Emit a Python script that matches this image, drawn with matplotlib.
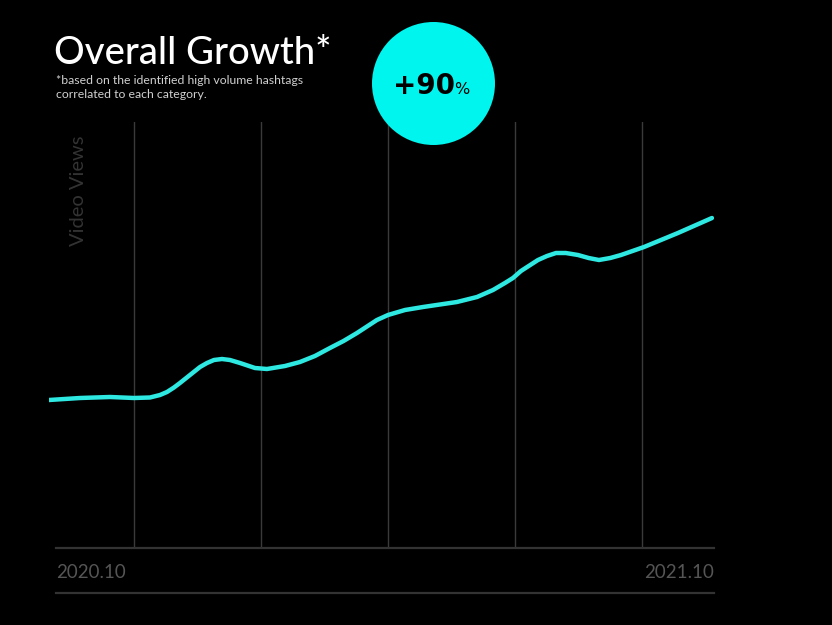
import matplotlib.pyplot as plt
from matplotlib.patches import Ellipse
from matplotlib.lines import Line2D

# period index (grid lines sit at 1..5), video views (relative units)
period = [0.331, 0.575, 0.811, 1.0, 1.126, 1.205, 1.260, 1.315, 1.362, 1.441,
          1.520, 1.575, 1.630, 1.693, 1.756, 1.835, 1.953, 2.047, 2.189, 2.307,
          2.425, 2.543, 2.650, 2.756, 2.913, 3.0, 3.134, 3.276, 3.543, 3.701,
          3.827, 3.921, 3.984, 4.047, 4.181, 4.252, 4.323, 4.400, 4.496, 4.580,
          4.661, 4.750, 4.835, 5.016, 5.283, 5.551]
views = [148, 150, 151, 150, 150.5, 153, 156, 160.5, 165, 173,
         181, 185, 188, 189, 188, 185, 180, 179, 182, 186,
         192, 200, 207, 215, 228, 233, 238, 241, 246, 251,
         258, 265, 270, 277, 288, 292, 295, 295, 293, 290,
         288, 290, 293, 301, 315, 330]
grid_at = [1, 2, 3, 4, 5]
x_labels = ["2020.10", "2021.10"]

BG = "#000000"
LINE = "#2ee8e2"
GRID = "#3a3a3a"

fig = plt.figure(figsize=(8.32, 6.25), dpi=100, facecolor=BG)
ax = fig.add_axes([49 / 832, 1 - 548 / 625, 665 / 832, 426 / 625])
ax.set_facecolor(BG)
ax.set_xlim(0.331, 5.567)
ax.set_ylim(0, 426)
for s in ax.spines.values():
    s.set_visible(False)
ax.set_xticks([])
ax.set_yticks([])

for g in grid_at:
    ax.axvline(g, color=GRID, lw=1.0, zorder=1)

ax.plot(period, views, color=LINE, lw=3.2, solid_capstyle="round",
        solid_joinstyle="round", zorder=3)

# baseline and bottom rule
fig.add_artist(Line2D([56 / 832, 714 / 832], [1 - 548 / 625] * 2,
                      color="#333333", lw=1.6))
fig.add_artist(Line2D([56 / 832, 714 / 832], [1 - 593 / 625] * 2,
                      color="#333333", lw=1.6))

fig.text(56 / 832, 1 - 572 / 625, x_labels[0], color="#555555", fontsize=13.5,
         family="Lato", ha="left", va="center")
fig.text(714 / 832, 1 - 572 / 625, x_labels[1], color="#555555", fontsize=13.5,
         family="Lato", ha="right", va="center")

fig.text(78 / 832, 1 - 191 / 625, "Video Views", color="#333333", fontsize=14.5,
         family="Lato", rotation=90, ha="center", va="center")

# titles
fig.text(54 / 832, 1 - 53 / 625, "Overall Growth*", color="white", fontsize=27.5,
         family="Lato", fontweight="medium", ha="left", va="center")
fig.text(56 / 832, 1 - 80 / 625, "*based on the identified high volume hashtags",
         color="#d0d0d0", fontsize=8.8, family="Lato", ha="left", va="center")
fig.text(56 / 832, 1 - 95 / 625, "correlated to each category.",
         color="#d0d0d0", fontsize=8.8, family="Lato", ha="left", va="center")

# badge
fig.add_artist(Ellipse((433.5 / 832, 1 - 83.5 / 625), 123 / 832, 123 / 625,
                       facecolor="#00f5ee", edgecolor="none", zorder=5))
fig.text(393 / 832, 1 - 86 / 625, "+90", color="black", fontsize=20,
         fontweight="bold", family="DejaVu Sans", ha="left", va="center", zorder=6)
fig.text(454 / 832, 1 - 89 / 625, "%", color="black", fontsize=11.5,
         family="DejaVu Sans", ha="left", va="center", zorder=6)

fig.savefig("out.png", dpi=100, facecolor=BG)
